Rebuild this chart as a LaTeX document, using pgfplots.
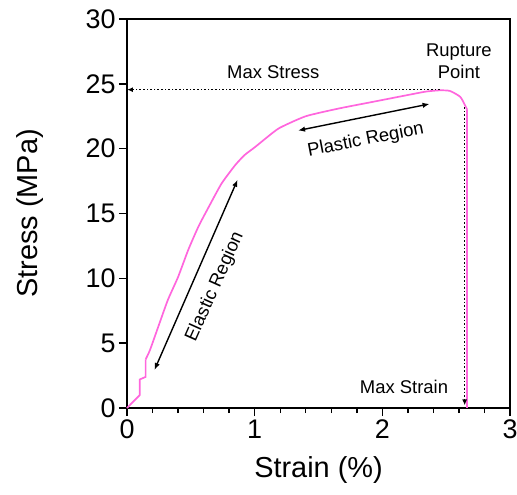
\documentclass[border=0pt]{standalone}
\usepackage{fontspec}
\setmainfont{Liberation Sans}
\usepackage{pgfplots}
\pgfplotsset{compat=1.18}
\usetikzlibrary{arrows.meta}
\definecolor{curvepink}{RGB}{255,102,221}

\begin{document}
\begin{tikzpicture}
\begin{axis}[
  scale only axis, width=383bp, height=389bp,
  xmin=0, xmax=3, ymin=0, ymax=30,
  xtick={0,1,2,3}, minor x tick num=4,
  ytick={0,5,10,15,20,25,30},
  tick align=outside, xtick pos=bottom, ytick pos=left,
  major tick length=8bp, minor tick length=5bp,
  axis line style={line width=1.6bp}, every tick/.style={black, line width=1.4bp},
  /pgf/number format/assume math mode=true,
  tick label style={font=\fontsize{27}{30}\selectfont},
  label style={font=\fontsize{29}{32}\selectfont},
  xlabel={Strain (\%)}, ylabel={Stress (MPa)},
  xlabel style={at={(axis description cs:0.5,-0.16)}, anchor=center},
  ylabel style={at={(axis description cs:-0.253,0.5)}, anchor=center},
  clip=false,
]
% initial steps
\addplot[curvepink, line width=1.7bp] coordinates {
(0,0) (0.10,1.0) (0.10,2.2) (0.146,2.4) (0.146,3.75)};
% main curve
\addplot[curvepink, line width=1.7bp, smooth, tension=0.35] coordinates {
(0.146,3.75) (0.18,4.47) (0.245,6.27)
(0.32,8.33) (0.40,10.1) (0.48,12.2) (0.56,14.0) (0.64,15.5) (0.74,17.3)
(0.845,18.7) (0.92,19.5) (1.0,20.1) (1.1,20.9) (1.195,21.6) (1.4,22.5)
(1.66,23.1) (1.92,23.6) (2.18,24.1) (2.34,24.4) (2.45,24.5) (2.53,24.45)
(2.61,24.0) (2.645,23.4) (2.665,23.0)};
% rupture drop
\addplot[curvepink, line width=1.7bp] coordinates {(2.665,23.0) (2.665,0)};

% annotations
\draw[dash pattern=on 1.6bp off 2bp, line width=1.6bp, -{Latex[length=6bp,width=5bp]}] (axis cs:2.45,24.55) -- (axis cs:0,24.55);
\draw[dash pattern=on 1.6bp off 2bp, line width=1.6bp, -{Latex[length=6bp,width=5bp]}] (axis cs:2.645,23.2) -- (axis cs:2.645,0.2);
\draw[line width=1.4bp, {Latex[length=7bp,width=5.5bp]}-{Latex[length=7bp,width=5.5bp]}] (axis cs:0.215,2.93) -- (axis cs:0.866,17.6);
\draw[line width=1.4bp, {Latex[length=7bp,width=5.5bp]}-{Latex[length=7bp,width=5.5bp]}] (axis cs:1.34,21.4) -- (axis cs:2.37,23.45);
\node[font=\fontsize{18.5}{22}\selectfont] at (axis cs:1.146,25.9) {Max Stress};
\node[font=\fontsize{18.5}{22}\selectfont, align=center] at (axis cs:2.6,26.75) {Rupture\\Point};
\node[font=\fontsize{18.5}{22}\selectfont] at (axis cs:2.17,1.6) {Max Strain};
\node[font=\fontsize{18.5}{22}\selectfont, rotate=66] at (axis cs:0.69,9.35) {Elastic Region};
\node[font=\fontsize{18.5}{22}\selectfont, rotate=11] at (axis cs:1.87,20.65) {Plastic Region};

\coordinate (bl) at (rel axis cs:0,0);
\coordinate (tr) at (rel axis cs:1,1);
\end{axis}
\pgfresetboundingbox
\path ([xshift=-127bp,yshift=-87bp]bl) rectangle ([xshift=7bp,yshift=19bp]tr);
\end{tikzpicture}
\end{document}
